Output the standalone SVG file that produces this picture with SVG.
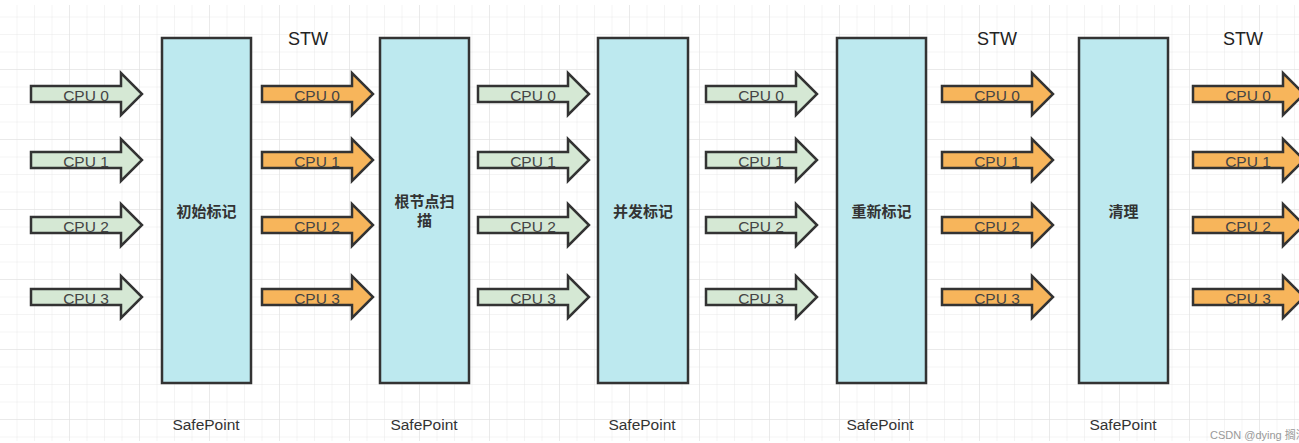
<svg xmlns="http://www.w3.org/2000/svg" width="1299" height="443" viewBox="0 0 1299 443">
<defs>
<pattern id="grid" x="0" y="0" width="17.5" height="17.5" patternUnits="userSpaceOnUse">
<path d="M17.5 0V17.5M0 17.5H17.5" fill="none" stroke="#e9e9e9" stroke-width="1"/>
</pattern>
<pattern id="gridMajor" x="0" y="0" width="70" height="70" patternUnits="userSpaceOnUse">
<path d="M70 0V70M0 70H70" fill="none" stroke="#e0e0e0" stroke-width="1"/>
</pattern>
<path id="arr" d="M0 -8H90V-21L111 0L90 21V8H0Z"/>
</defs>
<style>
.g{fill:#d5e8d4;stroke:#333;stroke-width:2.5;stroke-linejoin:miter}
.o{fill:#f7b55b;stroke:#333;stroke-width:2.5;stroke-linejoin:miter}
.box{fill:#bde9ef;stroke:#333;stroke-width:2.5}
.cpu{font-family:"Liberation Sans",Arial,sans-serif;font-size:15.5px;fill:#444;text-anchor:middle}
.lbl{font-family:"Liberation Sans","Noto Sans CJK SC",sans-serif;font-size:15px;font-weight:bold;fill:#333;text-anchor:middle}
.stw{font-family:"Liberation Sans",Arial,sans-serif;font-size:18px;fill:#222;text-anchor:middle}
.sp{font-family:"Liberation Sans",Arial,sans-serif;font-size:15.5px;fill:#333;text-anchor:middle}
.wm{font-family:"Liberation Sans","Noto Sans CJK SC",sans-serif;font-size:11px;fill:#999}
</style>
<rect width="1299" height="443" fill="#ffffff"/>
<rect x="0" y="5" width="1299" height="436" fill="url(#grid)"/>
<rect x="0" y="5" width="1299" height="436" fill="url(#gridMajor)"/>

<g id="connectors">
<g id="set1">
<use href="#arr" class="g" x="31" y="94"/><text class="cpu" x="86" y="100.5">CPU 0</text>
<use href="#arr" class="g" x="31" y="160"/><text class="cpu" x="86" y="166.5">CPU 1</text>
<use href="#arr" class="g" x="31" y="225"/><text class="cpu" x="86" y="231.5">CPU 2</text>
<use href="#arr" class="g" x="31" y="297"/><text class="cpu" x="86" y="303.5">CPU 3</text>
</g>
<g id="set2">
<use href="#arr" class="o" x="262" y="94"/><text class="cpu" x="317" y="100.5">CPU 0</text>
<use href="#arr" class="o" x="262" y="160"/><text class="cpu" x="317" y="166.5">CPU 1</text>
<use href="#arr" class="o" x="262" y="225"/><text class="cpu" x="317" y="231.5">CPU 2</text>
<use href="#arr" class="o" x="262" y="297"/><text class="cpu" x="317" y="303.5">CPU 3</text>
</g>
<g id="set3">
<use href="#arr" class="g" x="478" y="94"/><text class="cpu" x="533" y="100.5">CPU 0</text>
<use href="#arr" class="g" x="478" y="160"/><text class="cpu" x="533" y="166.5">CPU 1</text>
<use href="#arr" class="g" x="478" y="225"/><text class="cpu" x="533" y="231.5">CPU 2</text>
<use href="#arr" class="g" x="478" y="297"/><text class="cpu" x="533" y="303.5">CPU 3</text>
</g>
<g id="set4">
<use href="#arr" class="g" x="706" y="94"/><text class="cpu" x="761" y="100.5">CPU 0</text>
<use href="#arr" class="g" x="706" y="160"/><text class="cpu" x="761" y="166.5">CPU 1</text>
<use href="#arr" class="g" x="706" y="225"/><text class="cpu" x="761" y="231.5">CPU 2</text>
<use href="#arr" class="g" x="706" y="297"/><text class="cpu" x="761" y="303.5">CPU 3</text>
</g>
<g id="set5">
<use href="#arr" class="o" x="942" y="94"/><text class="cpu" x="997" y="100.5">CPU 0</text>
<use href="#arr" class="o" x="942" y="160"/><text class="cpu" x="997" y="166.5">CPU 1</text>
<use href="#arr" class="o" x="942" y="225"/><text class="cpu" x="997" y="231.5">CPU 2</text>
<use href="#arr" class="o" x="942" y="297"/><text class="cpu" x="997" y="303.5">CPU 3</text>
</g>
<g id="set6">
<use href="#arr" class="o" x="1193" y="94"/><text class="cpu" x="1248" y="100.5">CPU 0</text>
<use href="#arr" class="o" x="1193" y="160"/><text class="cpu" x="1248" y="166.5">CPU 1</text>
<use href="#arr" class="o" x="1193" y="225"/><text class="cpu" x="1248" y="231.5">CPU 2</text>
<use href="#arr" class="o" x="1193" y="297"/><text class="cpu" x="1248" y="303.5">CPU 3</text>
</g>
</g>

<g id="node1"><rect class="box" x="162" y="38" width="89" height="345"/><text class="lbl" x="206.5" y="217">初始标记</text></g>
<g id="node2"><rect class="box" x="380" y="38" width="89" height="345"/><text class="lbl" x="424.5" y="207">根节点扫</text><text class="lbl" x="424.5" y="226">描</text></g>
<g id="node3"><rect class="box" x="598" y="38" width="90" height="345"/><text class="lbl" x="643" y="217">并发标记</text></g>
<g id="node4"><rect class="box" x="837" y="38" width="89" height="345"/><text class="lbl" x="881.5" y="217">重新标记</text></g>
<g id="node5"><rect class="box" x="1079" y="38" width="89" height="345"/><text class="lbl" x="1123.5" y="217">清理</text></g>

<g id="labels">
<text class="stw" x="308" y="45">STW</text>
<text class="stw" x="997" y="45">STW</text>
<text class="stw" x="1243" y="45">STW</text>
<text class="sp" x="206" y="430">SafePoint</text>
<text class="sp" x="424" y="430">SafePoint</text>
<text class="sp" x="642" y="430">SafePoint</text>
<text class="sp" x="880" y="430">SafePoint</text>
<text class="sp" x="1123" y="430">SafePoint</text>
<text class="wm" x="1210" y="439">CSDN @dying 搁浅</text>
</g>
</svg>
